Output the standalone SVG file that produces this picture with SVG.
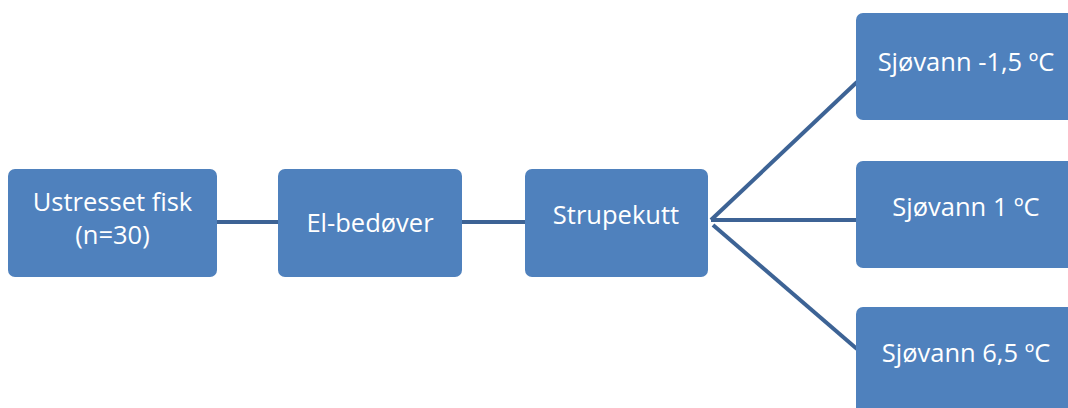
<svg xmlns="http://www.w3.org/2000/svg" width="1068" height="408" viewBox="0 0 1068 408">
<style>
.box{fill:#4F81BD;}
.t{fill:#FFFFFF;font-family:"Open Sans","Noto Sans","Liberation Sans",sans-serif;font-size:25.5px;text-anchor:middle;}
.c{stroke:#3D6395;stroke-width:4;fill:none;}
</style>
<rect width="1068" height="408" fill="#FFFFFF"/>
<g id="connectors">
<line class="c" x1="217" y1="222" x2="278" y2="222"/>
<line class="c" x1="462" y1="222" x2="525" y2="222"/>
<line class="c" x1="711" y1="220" x2="857" y2="82"/>
<line class="c" x1="711" y1="220" x2="857" y2="220"/>
<line class="c" x1="713" y1="225" x2="857" y2="349"/>
</g>
<g id="n1">
<rect class="box" x="8" y="169" width="209" height="108" rx="7"/>
<text class="t" x="112.5" y="211">Ustresset fisk</text>
<text class="t" x="112.5" y="244">(n=30)</text>
</g>
<g id="n2">
<rect class="box" x="278" y="169" width="184" height="108" rx="7"/>
<text class="t" x="370" y="232">El-bedøver</text>
</g>
<g id="n3">
<rect class="box" x="525" y="169" width="183" height="108" rx="7"/>
<text class="t" x="616" y="224">Strupekutt</text>
</g>
<g id="n4">
<rect class="box" x="856" y="13" width="222" height="107" rx="7"/>
<text class="t" x="966" y="71">Sjøvann -1,5 ºC</text>
</g>
<g id="n5">
<rect class="box" x="856" y="161" width="222" height="107" rx="7"/>
<text class="t" x="966" y="216">Sjøvann 1 ºC</text>
</g>
<g id="n6">
<rect class="box" x="856" y="307" width="222" height="107" rx="7"/>
<text class="t" x="966" y="362">Sjøvann 6,5 ºC</text>
</g>
</svg>
